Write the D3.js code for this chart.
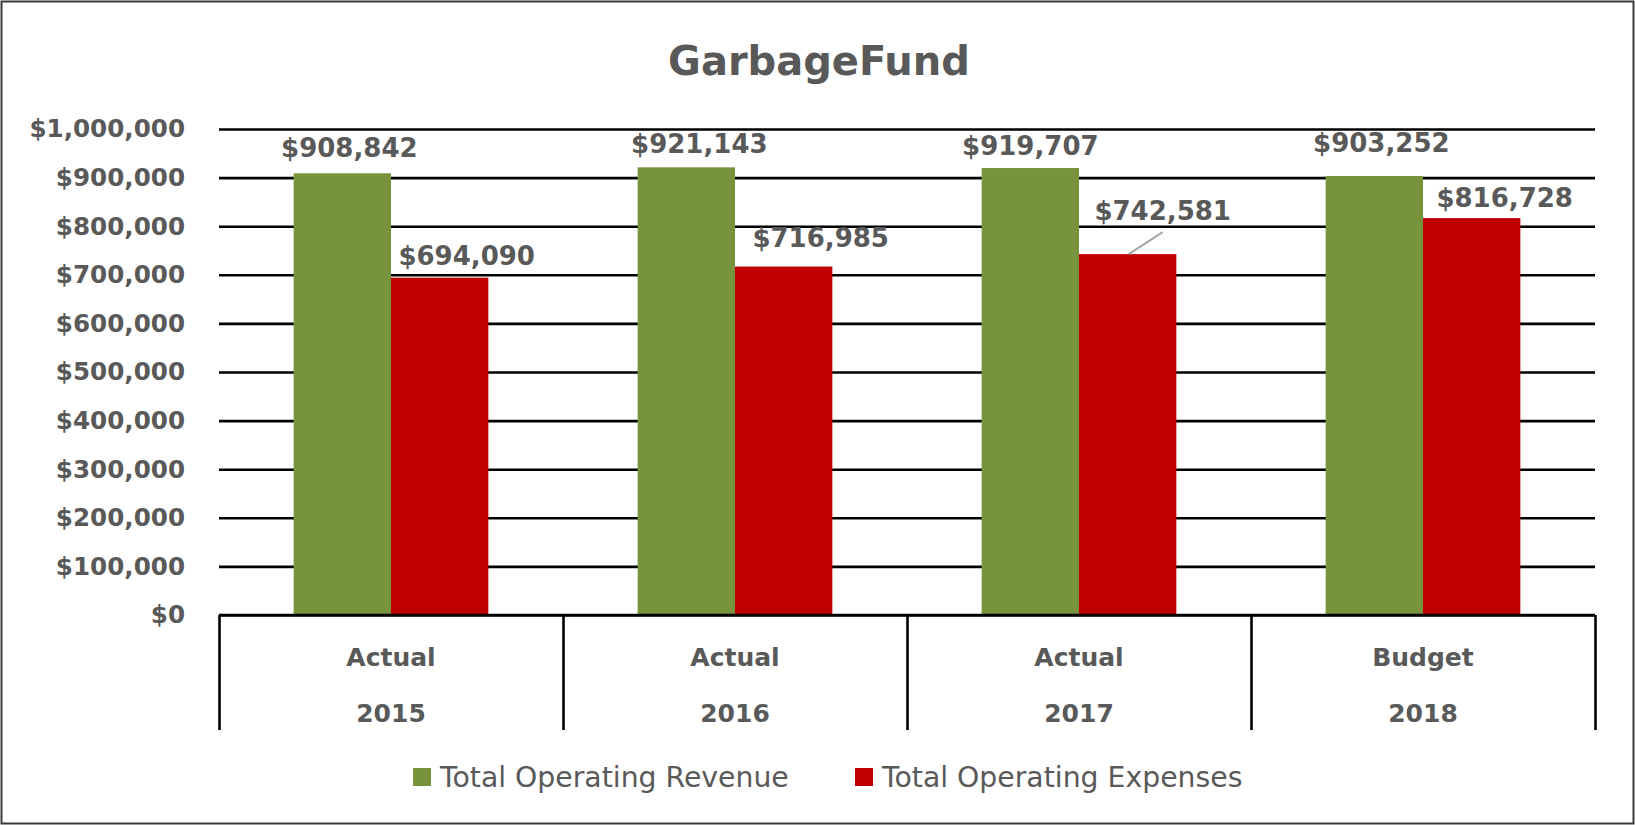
<!DOCTYPE html>
<html>
<head>
<meta charset="utf-8">
<script src="https://cdn.jsdelivr.net/npm/d3@7"></script>
<style>
  body { margin: 0; background: #fff; }
  text { font-family: "DejaVu Sans", sans-serif; fill: #595959; }
</style>
</head>
<body>
<div id="chart"></div>
<script>
// data
var categories   = ["2015", "2016", "2017", "2018"];
var categoryType = ["Actual", "Actual", "Actual", "Budget"];
var revenue      = [908842, 921143, 919707, 903252];
var expenses     = [694090, 716985, 742581, 816728];
var seriesNames  = ["Total Operating Revenue", "Total Operating Expenses"];
var yTicks       = [0, 100000, 200000, 300000, 400000, 500000, 600000, 700000, 800000, 900000, 1000000];

// label nudges from the bar top / bar centre (labels were dragged by hand)
var revLabelDx = [7, 13, 0, 7];
var revLabelDy = [-16, -14, -13, -24];
var expLabelDx = [27, 37, 35, 33];
var expLabelDy = [-13, -20, -34, -11];

var svgWidth  = 1635;
var svgHeight = 825;

var colors = ["#77933c", "#c00000"];
var fmt = function(v) { return "$" + d3.format(",")(v); };

var svg = d3.select("#chart")
            .append("svg")
            .attr("width", svgWidth)
            .attr("height", svgHeight);

// outer frame
svg.append("rect")
    .attr("x", 1.5).attr("y", 1.5)
    .attr("width", svgWidth - 3).attr("height", svgHeight - 3)
    .attr("fill", "#fff")
    .attr("stroke", "#3a3a3a")
    .attr("stroke-width", 2);

// scales
var x0 = d3.scaleBand()
           .domain(categories)
           .range([219, 1595])
           .paddingInner(0.434)
           .paddingOuter(0.217);

var x1 = d3.scaleBand()
           .domain([0, 1])
           .range([0, x0.bandwidth()]);

var y = d3.scaleLinear()
          .domain([0, 1000000])
          .range([615, 129]);

// title
svg.append("text")
    .attr("x", 819)
    .attr("y", 75)
    .attr("text-anchor", "middle")
    .attr("font-size", 40)
    .attr("font-weight", "bold")
    .text("GarbageFund");

// gridlines + y labels
var yAxis = d3.axisLeft(y)
              .tickValues(yTicks)
              .tickSize(-(1595 - 219))
              .tickPadding(34)
              .tickFormat(fmt);

var yAxisGroup = svg.append("g")
                    .attr("transform", "translate(219,0)")
                    .call(yAxis);

yAxisGroup.select(".domain").remove();
yAxisGroup.selectAll("line")
    .attr("stroke", "#000")
    .attr("stroke-width", 2.6);
yAxisGroup.selectAll("text")
    .attr("font-size", 24.6)
    .attr("font-weight", "bold")
    .attr("fill", "#595959")
    .style("font-family", "'DejaVu Sans', sans-serif");

// bars
var groups = svg.selectAll("g.cat")
    .data(categories)
    .enter()
      .append("g")
      .attr("class", "cat")
      .attr("transform", function(d) { return "translate(" + x0(d) + ",0)"; });

groups.append("rect")
    .attr("x", x1(0))
    .attr("y", function(d, i) { return y(revenue[i]); })
    .attr("width", x1.bandwidth())
    .attr("height", function(d, i) { return y(0) - y(revenue[i]); })
    .attr("fill", colors[0]);

groups.append("rect")
    .attr("x", x1(1))
    .attr("y", function(d, i) { return y(expenses[i]); })
    .attr("width", x1.bandwidth())
    .attr("height", function(d, i) { return y(0) - y(expenses[i]); })
    .attr("fill", colors[1]);

// category axis: baseline and dividers
var xAxis = d3.axisBottom(d3.scaleLinear().domain([0, 4]).range([219, 1595]))
              .tickValues([0, 1, 2, 3, 4])
              .tickSize(115)
              .tickFormat("");

var xAxisGroup = svg.append("g")
                    .attr("transform", "translate(0," + y(0) + ")")
                    .call(xAxis);
xAxisGroup.selectAll("line, path")
    .attr("stroke", "#000")
    .attr("stroke-width", 2.6);
xAxisGroup.select(".domain").attr("d", "M219,0H1595");

// category labels, two rows
groups.append("text")
    .attr("x", x0.bandwidth() / 2)
    .attr("y", 666)
    .attr("text-anchor", "middle")
    .attr("font-size", 25)
    .attr("font-weight", "bold")
    .text(function(d, i) { return categoryType[i]; });

groups.append("text")
    .attr("x", x0.bandwidth() / 2)
    .attr("y", 722)
    .attr("text-anchor", "middle")
    .attr("font-size", 25)
    .attr("font-weight", "bold")
    .text(function(d) { return d; });

// data labels
groups.append("text")
    .attr("x", function(d, i) { return x1(0) + x1.bandwidth() / 2 + revLabelDx[i]; })
    .attr("y", function(d, i) { return y(revenue[i]) + revLabelDy[i]; })
    .attr("text-anchor", "middle")
    .attr("font-size", 26)
    .attr("font-weight", "bold")
    .text(function(d, i) { return fmt(revenue[i]); });

groups.append("text")
    .attr("x", function(d, i) { return x1(1) + x1.bandwidth() / 2 + expLabelDx[i]; })
    .attr("y", function(d, i) { return y(expenses[i]) + expLabelDy[i]; })
    .attr("text-anchor", "middle")
    .attr("font-size", 26)
    .attr("font-weight", "bold")
    .text(function(d, i) { return fmt(expenses[i]); });

// leader line for the dragged 2017 expense label
svg.append("line")
    .attr("x1", x0("2017") + x1(1) + x1.bandwidth() / 2 + 1)
    .attr("y1", y(expenses[2]))
    .attr("x2", x0("2017") + x1(1) + x1.bandwidth() / 2 + 35)
    .attr("y2", y(expenses[2]) - 22)
    .attr("stroke", "#a6a6a6")
    .attr("stroke-width", 2);

// legend
var legend = svg.append("g")
                .attr("transform", "translate(413,777)");

var legendItems = legend.selectAll("g")
    .data(seriesNames)
    .enter()
      .append("g")
      .attr("transform", function(d, i) { return "translate(" + (i * 442) + ",0)"; });

legendItems.append("rect")
    .attr("x", 0)
    .attr("y", -9)
    .attr("width", 18)
    .attr("height", 18)
    .attr("fill", function(d, i) { return colors[i]; });

legendItems.append("text")
    .attr("x", 27)
    .attr("y", 0)
    .attr("dy", "0.36em")
    .attr("font-size", 28.3)
    .text(function(d) { return d; });
</script>
</body>
</html>
